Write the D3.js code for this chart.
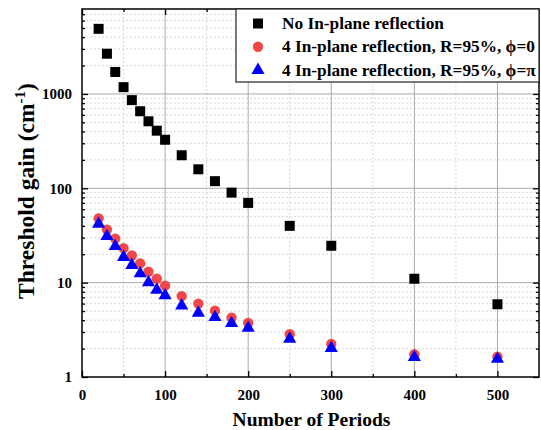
<!DOCTYPE html>
<html><head><meta charset="utf-8">
<script src="https://cdn.jsdelivr.net/npm/d3@7"></script>
<style>body{margin:0;background:#fff}svg{display:block}</style>
</head><body>
<script>
const periods = [20,30,40,50,60,70,80,90,100,120,140,160,180,200,250,300,400,500];
const noReflection = [4900,2670,1710,1180,860,656,513,408,327,224,159,119,90,70,40,24.6,11,5.9];
const phi0 = [48,36.5,29.3,23.2,19.4,16,13.1,11,9.3,7.2,6,5.05,4.25,3.74,2.84,2.24,1.74,1.64];
const phiPi = [43,31.8,24.9,19.1,15.7,12.8,10.3,8.6,7.5,5.85,4.9,4.4,3.8,3.39,2.6,2.07,1.66,1.59];
const xTicks = [0,100,200,300,400,500];
const yTicks = [1,10,100,1000];
const seriesNames = ["No In-plane reflection","4 In-plane reflection, R=95%, \u03d5=0","4 In-plane reflection, R=95%, \u03d5=\u03c0"];

(function(){
const W=541,H=430, L=82, T=9, R=539, B=377;
const svg=d3.select("body").append("svg").attr("width",W).attr("height",H);
const x=d3.scaleLinear().domain([0,550]).range([L,R]);
const y=d3.scaleLog().domain([1,7950]).range([B,T]);
const font="'Liberation Serif','Times New Roman',serif";

const xMinor=d3.range(50,550,100);
const yMinor=[];
for(let d=1;d<=1000;d*=10){for(let k=2;k<=9;k++){const v=d*k;if(v<=7950)yMinor.push(v);}}
const g=svg.append("g");
g.selectAll(".xm").data(xMinor).join("line").attr("x1",d=>x(d)).attr("x2",d=>x(d)).attr("y1",T).attr("y2",B)
 .attr("stroke","#d8d8d8").attr("stroke-dasharray","2,2").attr("stroke-width",1);
g.selectAll(".ym").data(yMinor).join("line").attr("x1",L).attr("x2",R).attr("y1",d=>y(d)).attr("y2",d=>y(d))
 .attr("stroke","#d8d8d8").attr("stroke-dasharray","2,2").attr("stroke-width",1);
const g2=svg.append("g");
g2.selectAll(".xg").data(xTicks.filter(d=>d>0)).join("line").attr("x1",d=>x(d)).attr("x2",d=>x(d)).attr("y1",T).attr("y2",B)
 .attr("stroke","#aaaaaa").attr("stroke-width",1);
const g3=svg.append("g");
g3.selectAll(".yg").data(yTicks.filter(d=>d>1)).join("line").attr("x1",L).attr("x2",R).attr("y1",d=>y(d)).attr("y2",d=>y(d))
 .attr("stroke","#aaaaaa").attr("stroke-width",1);

function styleAxis(sel){sel.selectAll(".domain").remove();sel.selectAll("line").attr("stroke","#000").attr("stroke-width",1.3);}
const bottomAx=svg.append("g").attr("transform",`translate(0,${B})`)
 .call(d3.axisBottom(x).tickValues(xTicks).tickSize(-6).tickPadding(12).tickFormat(d3.format("d")));
styleAxis(bottomAx);
bottomAx.selectAll("text").attr("font-family",font).attr("font-weight","bold").attr("font-size",15).attr("fill","#000");
svg.append("g").attr("transform",`translate(0,${B})`).call(d3.axisBottom(x).tickValues(xMinor).tickSize(-3).tickFormat("")).call(styleAxis);
svg.append("g").attr("transform",`translate(0,${T})`).call(d3.axisTop(x).tickValues(xTicks).tickSize(-6).tickFormat("")).call(styleAxis);
svg.append("g").attr("transform",`translate(0,${T})`).call(d3.axisTop(x).tickValues(xMinor).tickSize(-3).tickFormat("")).call(styleAxis);
const leftAx=svg.append("g").attr("transform",`translate(${L},0)`)
 .call(d3.axisLeft(y).tickValues(yTicks).tickSize(-6).tickPadding(10).tickFormat(d3.format("d")));
styleAxis(leftAx);
leftAx.selectAll("text").attr("font-family",font).attr("font-weight","bold").attr("font-size",15).attr("fill","#000");
svg.append("g").attr("transform",`translate(${L},0)`).call(d3.axisLeft(y).tickValues(yMinor).tickSize(-3).tickFormat("")).call(styleAxis);
svg.append("g").attr("transform",`translate(${R},0)`).call(d3.axisRight(y).tickValues(yTicks).tickSize(-6).tickFormat("")).call(styleAxis);
svg.append("g").attr("transform",`translate(${R},0)`).call(d3.axisRight(y).tickValues(yMinor).tickSize(-3).tickFormat("")).call(styleAxis);

svg.append("rect").attr("x",L).attr("y",T).attr("width",R-L).attr("height",B-T).attr("fill","none").attr("stroke","#000").attr("stroke-width",1.5);

const sq=d3.symbol().type(d3.symbolSquare).size(100);
const ci=d3.symbol().type(d3.symbolCircle).size(85);
const tr=d3.symbol().type(d3.symbolTriangle).size(75);
svg.append("g").selectAll("path").data(periods.map((p,i)=>[p,noReflection[i]])).join("path")
 .attr("d",sq).attr("transform",d=>`translate(${x(d[0])},${y(d[1])})`).attr("fill","#000");
svg.append("g").selectAll("path").data(periods.map((p,i)=>[p,phi0[i]])).join("path")
 .attr("d",ci).attr("transform",d=>`translate(${x(d[0])},${y(d[1])})`).attr("fill","#f04848");
svg.append("g").selectAll("path").data(periods.map((p,i)=>[p,phiPi[i]])).join("path")
 .attr("d",tr).attr("transform",d=>`translate(${x(d[0])},${y(d[1])+1})`).attr("fill","#0000ff");

const lg=svg.append("g");
lg.append("rect").attr("x",236).attr("y",T).attr("width",R-236).attr("height",73).attr("fill","#fff").attr("stroke","#222").attr("stroke-width",1.2);
const syms=[[sq,"#000"],[ci,"#f04848"],[tr,"#0000ff"]];
seriesNames.forEach((n,i)=>{
  const yy=23.5+i*23.3;
  lg.append("path").attr("d",syms[i][0]).attr("transform",`translate(258,${yy})`).attr("fill",syms[i][1]);
  lg.append("text").attr("x",282).attr("y",yy+5.5).text(n).attr("font-family",font).attr("font-weight","bold").attr("font-size",17.3).attr("fill","#000");
});

svg.append("text").attr("x",(L+R)/2+1).attr("y",426).attr("text-anchor","middle").attr("font-family",font).attr("font-weight","bold").attr("font-size",19.5).text("Number of Periods");
const yt=svg.append("text").attr("transform",`translate(34,${191}) rotate(-90)`).attr("text-anchor","middle").attr("font-family",font).attr("font-weight","bold").attr("font-size",23.5);
yt.append("tspan").text("Threshold gain (cm");
yt.append("tspan").text("-1").attr("font-size",15).attr("dy",-9);
yt.append("tspan").text(")").attr("dy",9);
})();
</script>
</body></html>
